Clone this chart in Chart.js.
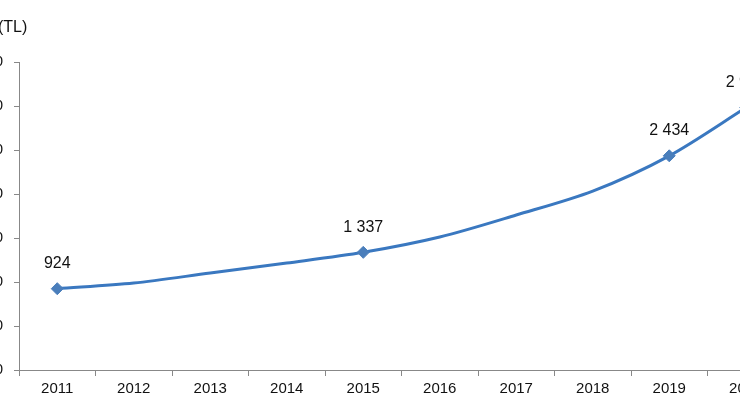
<!DOCTYPE html>
<html><head><meta charset="utf-8">
<script src="https://cdn.jsdelivr.net/npm/chart.js@4"></script>
<style>html,body{margin:0;padding:0;background:#fff;overflow:hidden}
#wrap{position:relative;width:740px;height:417px;overflow:hidden}
#c{position:absolute;left:-60px;top:0}</style></head>
<body><div id="wrap"><canvas id="c" width="900" height="417"></canvas></div>
<script>
const years = ['2011','2012','2013','2014','2015','2016','2017','2018','2019','2020'];
const values = [924, 988, 1102, 1215, 1337, 1511, 1761, 2033, 2434, 2980];
const labelled = [0, 4, 8, 9];
const unitTitle = '(TL)';
const fmt = v => String(v).replace(/\B(?=(\d{3})+(?!\d))/g, ' ');
const labelsPlugin = {
  id: 'lbl',
  afterDatasetsDraw(chart) {
    const ctx = chart.ctx, meta = chart.getDatasetMeta(0);
    ctx.save();
    ctx.font = '16px "Liberation Sans", Arial';
    ctx.fillStyle = '#111'; ctx.textAlign = 'center'; ctx.textBaseline = 'bottom';
    labelled.forEach(i => { const p = meta.data[i]; ctx.fillText(fmt(values[i]), p.x, p.y - 17); });
    ctx.textAlign = 'left'; ctx.textBaseline = 'middle';
    ctx.fillText(unitTitle, 58, 28);
    ctx.restore();
  }
};
new Chart(document.getElementById('c'), {
  type: 'line',
  data: { labels: years, datasets: [{ data: values, borderColor: '#3a78c0', backgroundColor: '#4a7ebb',
    borderWidth: 3, tension: 0.3, pointStyle: 'rectRot', pointRadius: values.map((v,i)=>labelled.includes(i)?6:0),
    pointBorderWidth: 1, pointBorderColor: '#4a7ebb' }] },
  options: {
    responsive: false, animation: false,
    layout: { padding: { top: 62, right: 56, left: 0, bottom: 0 } },
    plugins: { legend: { display: false }, tooltip: { enabled: false } },
    scales: {
      x: { offset: true, grid: { display: true, drawOnChartArea: false, offset: true, tickLength: 6, color: '#888' },
        border: { color: '#888' },
        ticks: { color: '#111', font: { size: 15, family: '"Liberation Sans", Arial' }, padding: 4 },
        afterFit: s => { s.height = 47; } },
      y: { min: 0, max: 3500, grid: { drawOnChartArea: false, tickLength: 5, color: '#888' },
        border: { color: '#888' },
        ticks: { stepSize: 500, color: '#111', callback: v => fmt(v), font: { size: 15, family: '"Liberation Sans", Arial' }, padding: 11 },
        afterFit: s => { s.width = 79; } }
    }
  },
  plugins: [labelsPlugin]
});
</script></body></html>
